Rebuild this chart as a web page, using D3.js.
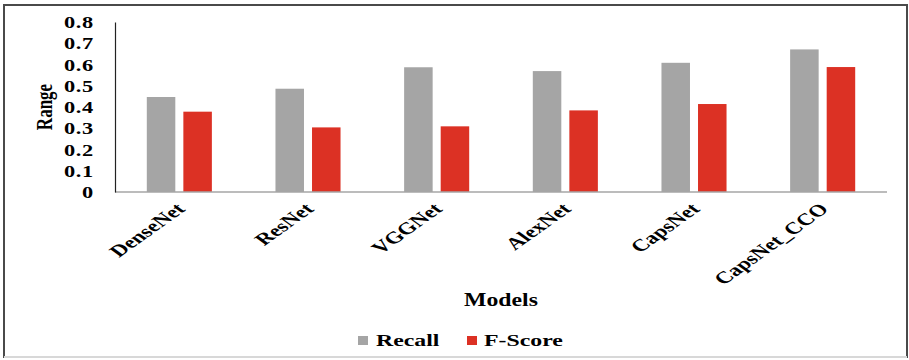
<!DOCTYPE html>
<html>
<head>
<meta charset="utf-8">
<script src="https://cdn.jsdelivr.net/npm/d3@7"></script>
<style>
  html, body { margin: 0; padding: 0; background: #fff; }
  svg { display: block; }
  text { font-family: "Liberation Serif", "Times New Roman", serif; font-weight: bold; fill: #000; }
</style>
</head>
<body>
<svg id="chart" width="909" height="360"></svg>
<script>
// Model names along the x axis
const models = ["DenseNet", "ResNet", "VGGNet", "AlexNet", "CapsNet", "CapsNet_CCO"];
// Series
const seriesNames = ["Recall", "F-Score"];
const recall = [0.447, 0.486, 0.587, 0.569, 0.608, 0.671];
const fScore = [0.378, 0.304, 0.309, 0.384, 0.414, 0.588];
// Y axis ticks
const yTicks = [0, 0.1, 0.2, 0.3, 0.4, 0.5, 0.6, 0.7, 0.8];
const yTickLabels = ["0", "0.1", "0.2", "0.3", "0.4", "0.5", "0.6", "0.7", "0.8"];

const colors = { "Recall": "#a5a5a5", "F-Score": "#dc3124" };
const sx = 1.4; // wide text face used throughout the figure

const svg = d3.select("#chart");

// outer frame
svg.append("rect").attr("x", 4).attr("y", 5).attr("width", 903).attr("height", 352)
  .attr("fill", "#fff").attr("stroke", "#4a4a4a").attr("stroke-width", 2);
svg.append("line").attr("x1", 4).attr("x2", 907).attr("y1", 357).attr("y2", 357)
  .attr("stroke", "#d8d8d8").attr("stroke-width", 2);

const plot = { left: 115, right: 887, top: 22, bottom: 192 };

const x0 = d3.scaleBand().domain(models).range([plot.left, plot.right]).padding(0);
const x1 = d3.scaleBand().domain(seriesNames).range([0, x0.bandwidth()])
  .paddingInner(0.22).paddingOuter(0.87);
const y = d3.scaleLinear().domain([0, 0.8]).range([plot.bottom, plot.top]);

const rows = models.map((m, i) => ({ model: m, values: [
  { key: "Recall", value: recall[i] },
  { key: "F-Score", value: fScore[i] }
]}));

// bars
const groups = svg.append("g").selectAll("g").data(rows).join("g")
  .attr("transform", d => `translate(${x0(d.model)},0)`);
groups.selectAll("rect").data(d => d.values).join("rect")
  .attr("x", d => x1(d.key))
  .attr("width", x1.bandwidth())
  .attr("y", d => y(d.value))
  .attr("height", d => y(0) - y(d.value))
  .attr("fill", d => colors[d.key]);

// x axis baseline
svg.append("line").attr("x1", plot.left).attr("x2", plot.right)
  .attr("y1", y(0)).attr("y2", y(0))
  .attr("stroke", "#a6a6a6").attr("stroke-width", 1.5);

// y axis
const yAxis = d3.axisLeft(y).tickValues(yTicks).tickSize(0)
  .tickFormat((d, i) => yTickLabels[i]);
const gy = svg.append("g").attr("transform", `translate(${plot.left},0)`).call(yAxis);
gy.select(".domain").attr("stroke", "#222").attr("stroke-width", 1.2);
gy.selectAll(".tick text")
  .attr("x", 0).attr("dy", "0.35em")
  .attr("font-size", 16)
  .attr("font-family", "Liberation Serif, serif")
  .attr("font-weight", "bold")
  .attr("letter-spacing", 0.5)
  .attr("fill", "#000")
  .attr("transform", `translate(-21,0) scale(1.4,1)`);

// x tick labels, rotated
const xAxis = d3.axisBottom(x0).tickSize(0);
const gx = svg.append("g").attr("transform", `translate(0,${y(0)})`).call(xAxis);
gx.select(".domain").remove();
gx.selectAll(".tick text")
  .attr("x", 0).attr("y", 0).attr("dy", 0)
  .attr("text-anchor", "end")
  .attr("font-size", 16.8)
  .attr("font-family", "Liberation Serif, serif")
  .attr("font-weight", "bold")
  .attr("fill", "#000")
  .attr("transform", `translate(7,18) scale(${sx},1) rotate(-45)`);

// axis titles
svg.append("text").attr("text-anchor", "middle").attr("font-size", 17)
  .attr("transform", `translate(52,107) scale(${sx},1) rotate(-90)`)
  .text("Range");
svg.append("text").attr("text-anchor", "middle").attr("font-size", 18)
  .attr("transform", `translate(501,306) scale(1.32,1)`)
  .text("Models");

// legend
const legendItems = [
  { key: "Recall", sq: 358, tx: 376 },
  { key: "F-Score", sq: 467, tx: 484 }
];
const lg = svg.append("g");
legendItems.forEach(it => {
  lg.append("rect").attr("x", it.sq).attr("y", 336).attr("width", 10).attr("height", 9)
    .attr("fill", colors[it.key]);
  lg.append("text").attr("font-size", 17)
    .attr("transform", `translate(${it.tx},346) scale(${sx},1)`)
    .text(it.key);
});
</script>
</body>
</html>
